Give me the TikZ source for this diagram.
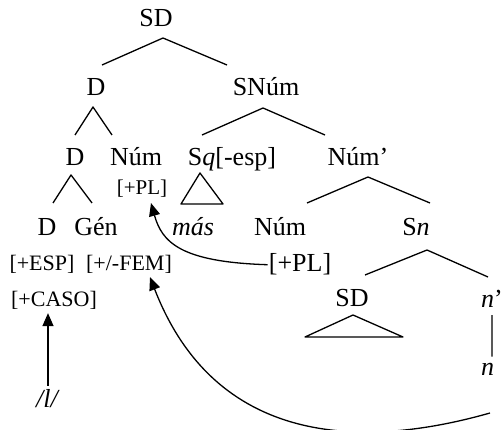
\documentclass[tikz,border=0pt]{standalone}
\usepackage{fontspec}
\setmainfont{Liberation Serif}
\usetikzlibrary{arrows.meta}

\begin{document}
\begin{tikzpicture}[x=1pt,y=-1pt]
\tikzstyle{cat} = [
	font=\fontsize{26}{30}\selectfont, %category labels
	inner sep=1pt,
	anchor=base
];
\tikzstyle{feat} = [
	font=\fontsize{22}{26}\selectfont, %feature bundles
	inner sep=1pt,
	anchor=base
];
\tikzstyle{branch} = [line width=1.3pt, line join=round];
\tikzstyle{arr} = [-{Triangle[length=13pt,width=11pt]}, line width=1.3pt];

\useasboundingbox (0,0) rectangle (503,430);

%labels
\node[cat](SD) at (156,27) {SD};
\node[cat](D) at (96,96) {D};
\node[cat](SNum) at (266,96) {SNúm};
\node[cat](Dd) at (75,166) {D};
\node[cat](NumA) at (136,166) {Núm};
\node[feat,font=\fontsize{21}{24}\selectfont](PLa) at (142,195) {[+PL]};
\node[cat](Sq) at (232,166) {S\textit{q}[-esp]};
\node[cat](Numbar) at (358,166) {Núm’};
\node[cat](mas) at (193,236) {\textit{más}};
\node[cat](NumB) at (280,236) {Núm};
\node[cat](Sn) at (416,236) {S\textit{n}};
\node[cat](PLb) at (300,272) {[+PL]};
\node[cat](SDb) at (352,306) {SD};
\node[cat,anchor=base west](nbar) at (480,307) {\textit{n}’};
\node[cat,anchor=base west](n) at (480,375) {\textit{n}};
\node[cat](Dl) at (47,236) {D};
\node[cat](Gen) at (96,236) {Gén};
\node[feat](ESP) at (42,270) {[+ESP]};
\node[feat](FEM) at (129,270) {[+/-FEM]};
\node[feat](CASO) at (54,306) {[+CASO]};
\node[cat](phon) at (48,407) {\textit{/l/}};

%branching points
\coordinate (SD-a) at (163,38);
\coordinate (SD-l) at (102,65);
\coordinate (SD-r) at (227,65);
\coordinate (D-a) at (93,107);
\coordinate (D-l) at (75,135);
\coordinate (D-r) at (112,135);
\coordinate (SNum-a) at (263,108);
\coordinate (SNum-l) at (202,135);
\coordinate (SNum-r) at (325,135);
\coordinate (Numbar-a) at (368,177);
\coordinate (Numbar-l) at (307,203);
\coordinate (Numbar-r) at (430,203);
\coordinate (Dd-a) at (71,175);
\coordinate (Dd-l) at (53,203);
\coordinate (Dd-r) at (92,203);
\coordinate (Sn-a) at (427,250);
\coordinate (Sn-l) at (365,275);
\coordinate (Sn-r) at (488,277);
\coordinate (tail) at (490,413);

\draw[branch]
	(SD-l) -- (SD-a) -- (SD-r)
	(D-l) -- (D-a) -- (D-r)
	(SNum-l) -- (SNum-a) -- (SNum-r)
	(Numbar-l) -- (Numbar-a) -- (Numbar-r)
	(Dd-l) -- (Dd-a) -- (Dd-r)
	(Sn-l) -- (Sn-a) -- (Sn-r)
	([yshift=-7pt]nbar.south -| 492,0) -- ([yshift=5pt]n.north -| 492,0)
;

%triangles
\draw[branch] (200,173) -- (181,204) -- (223,204) -- cycle;
\draw[branch] (353,315) -- (305,337) -- (403,337) -- cycle;

%movement
\draw[arr, shorten <=2pt, shorten >=3pt] (phon.north) -- (phon.north |- CASO.south);
\draw[arr] (PLb.west) .. controls (180,262) and (162,242) .. ([xshift=9pt,yshift=-4pt]PLa.south);
\draw[arr] (tail) .. controls (360,450) and (215,445) .. ([xshift=21pt,yshift=-3pt]FEM.south);

\end{tikzpicture}
\end{document}
